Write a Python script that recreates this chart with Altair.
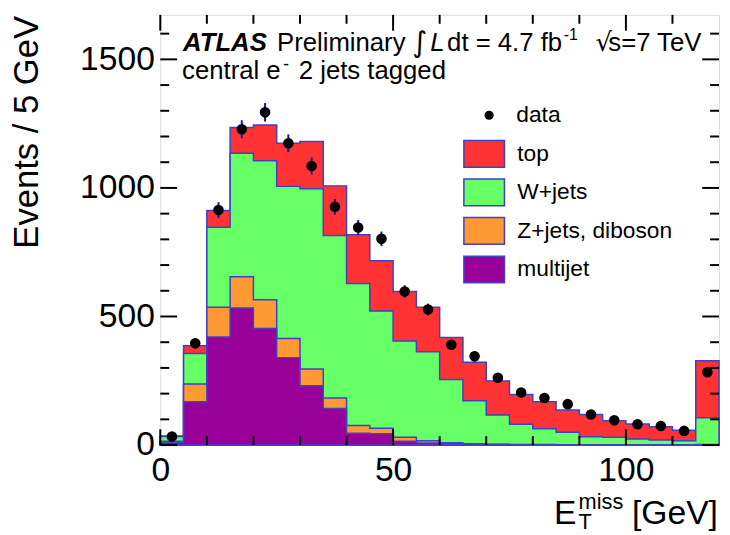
import altair as alt
import pandas as pd
import numpy as np

# ---------------- data ----------------
bin_edges = list(range(0, 125, 5))          # 0 ... 120 GeV, 24 bins of 5 GeV
multijet = [10, 168, 420, 533, 453, 340, 231, 142, 46, 44, 15, 8, 5, 3, 2, 1, 1, 1, 0, 0, 0, 0, 0, 1]
zjets_diboson = [5, 69, 116, 122, 112, 74, 65, 41, 30, 21, 15, 9, 4, 2, 1, 1, 1, 0, 1, 1, 1, 1, 1, 1]
wjets = [18, 119, 311, 480, 541, 592, 701, 632, 552, 456, 375, 346, 246, 167, 114, 79, 61, 49, 31, 29, 23, 19, 16, 104]
top = [2, 30, 65, 100, 139, 168, 184, 193, 190, 196, 192, 173, 163, 150, 132, 116, 105, 86, 87, 65, 58, 51, 41, 222]
data_counts = [33, 396, 914, 1228, 1294, 1174, 1085, 927, 846, 802, 597, 527, 390, 345, 262, 204, 183, 159, 119, 96, 81, 74, 55, 283]

components = ["top", "W+jets", "Z+jets, diboson", "multijet"]
comp_colors = ["#ff3333", "#66ff66", "#ff9933", "#990099"]

x_major = [0, 50, 100]
x_minor = [10, 20, 30, 40, 60, 70, 80, 90, 110]
y_major = [0, 500, 1000, 1500]
y_minor = [100, 200, 300, 400, 600, 700, 800, 900, 1100, 1200, 1300, 1400, 1600]

# ---------------- derived tables ----------------
mj = np.array(multijet)
zj = mj + np.array(zjets_diboson)
wj = zj + np.array(wjets)
tt = wj + np.array(top)
cum = {"top": tt, "W+jets": wj, "Z+jets, diboson": zj, "multijet": mj}

W, H = 565, 435
FONT = "Liberation Sans"
OUTLINE = "#4040c8"

xs = alt.Scale(domain=[0, 120], nice=False, zero=False)
ys = alt.Scale(domain=[0, 1673], nice=False)
x_axis = alt.Axis(values=x_major, format="d", labelFontSize=34, labelFont=FONT, labelColor="black",
                  ticks=False, domain=False, grid=False, labelPadding=9, labelFlush=False, title=None)
y_axis = alt.Axis(values=y_major, format="d", labelFontSize=34, labelFont=FONT, labelColor="black",
                  ticks=False, domain=False, grid=False, labelPadding=6, labelFlush=False, title=None)

color_scale = alt.Scale(domain=components, range=comp_colors)
color_legend = alt.Legend(orient="none", legendX=313, legendY=126, title=None,
                          symbolType="M-1.52,-1H1.52V1H-1.52Z", symbolSize=729,
                          symbolStrokeColor=OUTLINE, symbolStrokeWidth=1.5, symbolOpacity=1,
                          labelFontSize=23, labelFont=FONT, labelColor="black",
                          labelOffset=19, rowPadding=6, padding=0, labelLimit=400)

layers = []
for comp in components:
    vals = list(cum[comp]) + [cum[comp][-1]]
    df = pd.DataFrame({"edge": bin_edges, "value": vals, "comp": comp})
    layers.append(
        alt.Chart(df).mark_area(interpolate="step-after", stroke=OUTLINE, strokeWidth=1.5, opacity=1)
        .encode(
            x=alt.X("edge:Q", scale=xs, axis=x_axis),
            y=alt.Y("value:Q", scale=ys, axis=y_axis),
            color=alt.Color("comp:N", scale=color_scale, legend=color_legend),
        )
    )

centers = [e + 2.5 for e in bin_edges[:-1]]
ddf = pd.DataFrame({"x": centers, "n": data_counts, "lbl": "data"})
ddf["lo"] = ddf["n"] - np.sqrt(ddf["n"])
ddf["hi"] = ddf["n"] + np.sqrt(ddf["n"])

err = alt.Chart(ddf).mark_rule(color="#1010c0", strokeWidth=2).encode(
    x=alt.X("x:Q", scale=xs, axis=x_axis),
    y=alt.Y("lo:Q", scale=ys, axis=y_axis),
    y2="hi:Q",
)
pts = alt.Chart(ddf).mark_point(filled=True, size=115, color="black", opacity=1).encode(
    x=alt.X("x:Q", scale=xs, axis=x_axis),
    y=alt.Y("n:Q", scale=ys, axis=y_axis),
    shape=alt.Shape("lbl:N", scale=alt.Scale(domain=["data"], range=["circle"]),
                    legend=alt.Legend(orient="none", legendX=321, legendY=90, title=None,
                                      symbolSize=85, symbolFillColor="black", symbolStrokeColor="black",
                                      symbolStrokeWidth=0, labelFontSize=23, labelFont=FONT,
                                      labelColor="black", labelOffset=16, padding=0)),
)
layers += [err, pts]

# ---------------- inward ticks on all four sides ----------------
def xticks(vals, length, side):
    df = pd.DataFrame({"v": vals})
    y0 = H if side == "bottom" else 0
    y1 = H - length if side == "bottom" else length
    return alt.Chart(df).mark_rule(color="black", strokeWidth=2).encode(
        x=alt.X("v:Q", scale=xs, axis=x_axis), y=alt.value(y0), y2=alt.value(y1))

def yticks(vals, length, side):
    df = pd.DataFrame({"v": vals})
    x0 = 0 if side == "left" else W
    x1 = length if side == "left" else W - length
    return alt.Chart(df).mark_rule(color="black", strokeWidth=2).encode(
        y=alt.Y("v:Q", scale=ys, axis=y_axis), x=alt.value(x0), x2=alt.value(x1))

for side in ["bottom", "top"]:
    layers.append(xticks(x_major, 16, side))
    layers.append(xticks(x_minor, 9, side))
for side in ["left", "right"]:
    layers.append(yticks(y_major, 17, side))
    layers.append(yticks(y_minor, 9, side))

# ---------------- text ----------------
def txt(s, x, y, size, **kw):
    return alt.Chart(pd.DataFrame({"t": [s]})).mark_text(
        font=kw.pop("font", FONT), fontSize=size, align=kw.pop("align", "left"),
        baseline=kw.pop("baseline", "alphabetic"), color="black", **kw
    ).encode(x=alt.value(x), y=alt.value(y), text="t:N")

layers += [
    txt("ATLAS", 23, 37, 26, fontStyle="italic", fontWeight="bold"),
    txt("Preliminary", 118, 37, 26),
    txt("\u222b", 255, 38, 29, font="DejaVu Sans"),
    txt("L", 273, 37, 26, fontStyle="italic"),
    txt("dt = 4.7 fb", 290, 37, 26),
    txt("-1", 408, 25, 16),
    txt("\u221a", 440, 37, 26, font="DejaVu Sans"),
    txt("s=7 TeV", 453, 37, 26),
    txt("central e", 22, 65, 26),
    txt("-", 124, 56, 18),
    txt("2 jets tagged", 140, 65, 26),
    txt("Events / 5 GeV", -135, 1, 35, angle=270, align="right", baseline="middle"),
    txt("E", 398, 515, 34),
    txt("miss", 423, 500, 22),
    txt("T", 423, 520, 22),
    txt("[GeV]", 477, 515, 34),
]

chart = alt.layer(*layers).properties(
    width=W, height=H,
    autosize=alt.AutoSizeParams(type="none"),
    padding={"left": 154, "top": 4, "right": 3, "bottom": 88},
).configure_view(stroke="black", strokeWidth=2.5).configure(background="white")

chart.save("out.html", embed_options={"renderer": "svg", "actions": False})
